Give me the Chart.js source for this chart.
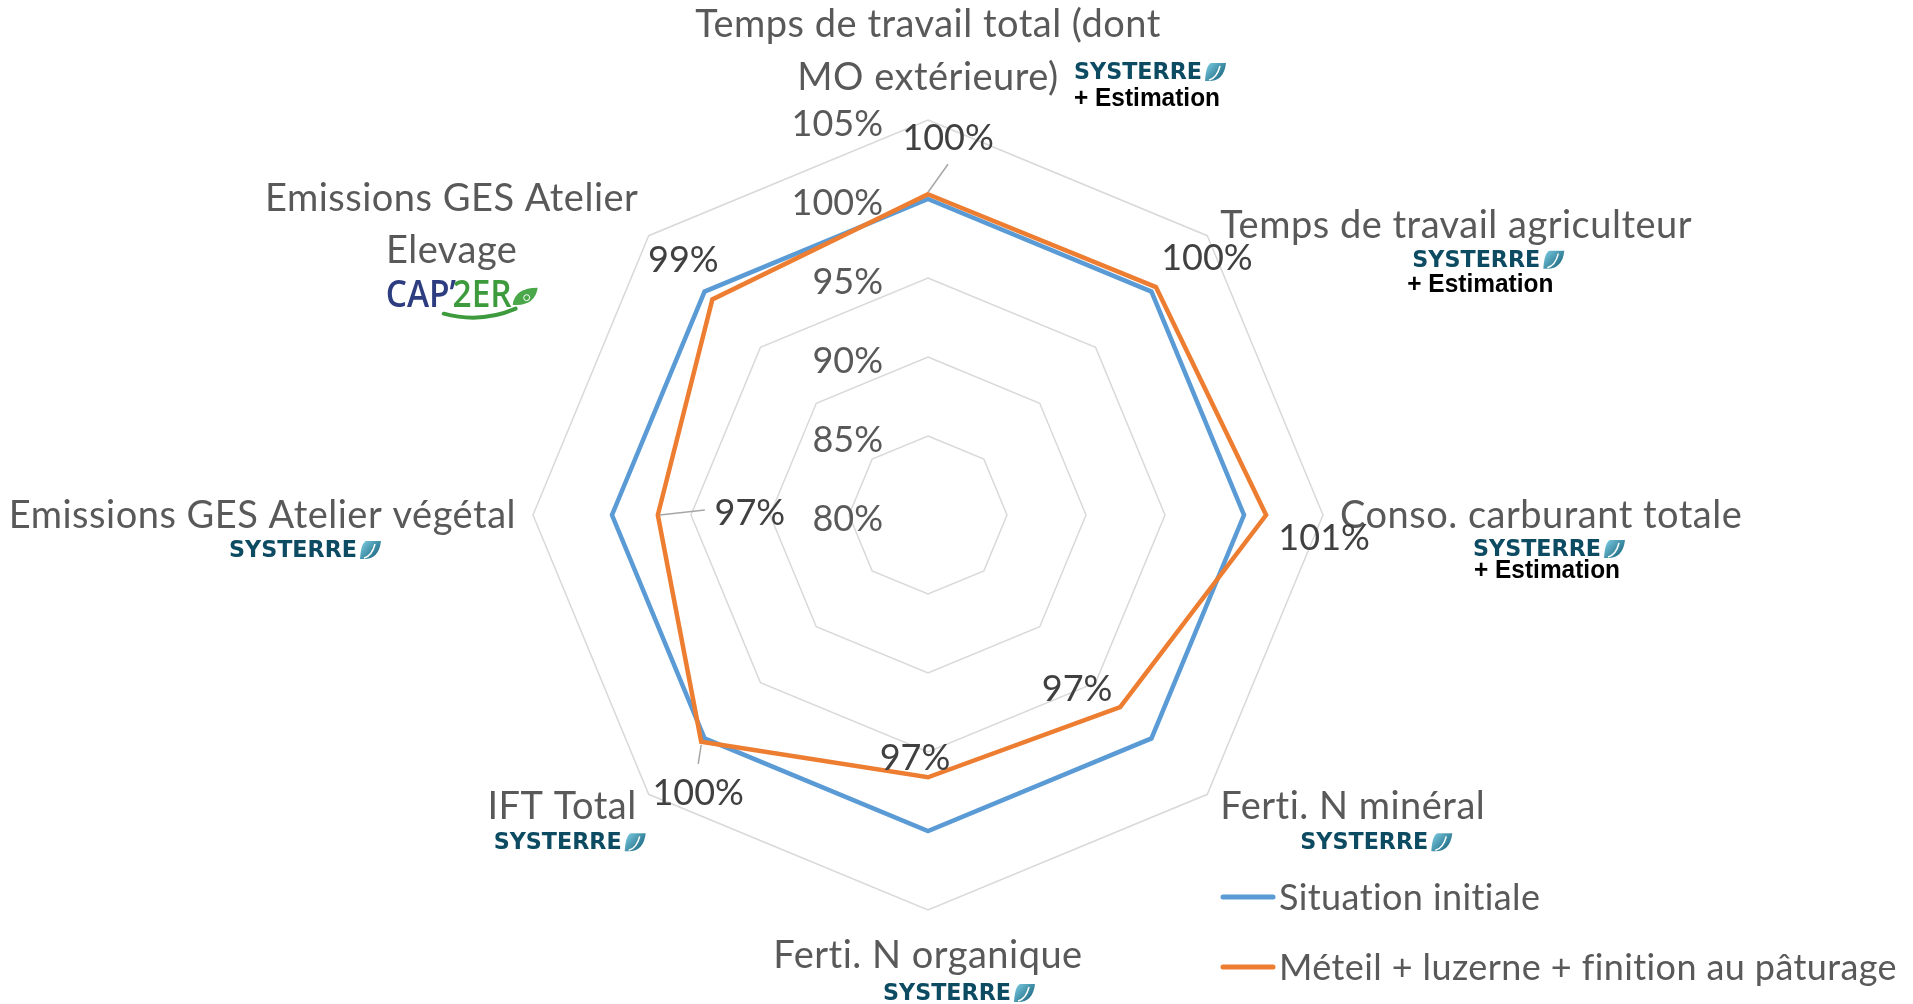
<!DOCTYPE html>
<html><head><meta charset="utf-8">
<script src="https://cdn.jsdelivr.net/npm/chart.js@4.4.0/dist/chart.umd.min.js"></script>
<style>html,body{margin:0;padding:0;background:#fff;overflow:hidden}#wrap{position:relative;width:1913px;height:1004px}</style>
</head><body><div id="wrap"><canvas id="c" width="1913" height="1004"></canvas></div>
<script>
// ---------- DATA ----------
const categories = [
  ['Temps de travail total (dont', 'MO extérieure)'],
  ['Temps de travail agriculteur'],
  ['Conso. carburant totale'],
  ['Ferti. N minéral'],
  ['Ferti. N organique'],
  ['IFT Total'],
  ['Emissions GES Atelier végétal'],
  ['Emissions GES Atelier', 'Elevage']
];
const sourceTool = ['SYSTERRE', 'SYSTERRE', 'SYSTERRE', 'SYSTERRE', 'SYSTERRE', 'SYSTERRE', 'SYSTERRE', 'CAP\u20192ER'];
const sourceNote = ['+ Estimation', '+ Estimation', '+ Estimation', '', '', '', '', ''];
const seriesNames = ['Situation initiale', 'Méteil + luzerne + finition au pâturage'];
const situationInitiale = [100, 100, 100, 100, 100, 100, 100, 100];
const meteilLuzerne = [100.3, 100.4, 101.4, 97.2, 96.6, 100.3, 97.1, 99.3];
const scaleMin = 80, scaleMax = 105, scaleStep = 5;

// ---------- STYLE ----------
const FONT = "Lato, 'Open Sans', 'DejaVu Sans', sans-serif";
const LABEL_SIZE = 38, LEGEND_SIZE = 36, NUM_SIZE = 36;
const TEXT_GREY = '#595959', NUM_GREY = '#404040';
const BLUE = '#5B9BD5', ORANGE = '#ED7D31';

// label placement relative to the outer (105%) vertex of each axis
const labelLayout = [
  {align: 'center', dx: 0, dy: [-97, -44], logo: [146, -48], note: [146, -21]},
  {align: 'left', dx: 13, dy: [-11], logo: [205, 24], note: [200, 49]},
  {align: 'left', dx: 17, dy: [-1], logo: [150, 34], note: [151, 56]},
  {align: 'left', dx: 13, dy: [11], logo: [93, 48]},
  {align: 'center', dx: 0, dy: [44], logo: [-45, 83]},
  {align: 'right', dx: -12, dy: [11], logo: [-155, 48]},
  {align: 'right', dx: -17, dy: [-1], logo: [-304, 35]},
  {align: 'center', dx: -197, dy: [-38, 14], logo: [-263, 60]}
];
// value label centre offsets relative to the orange point
const valueLabelOffset = [[20, -57], [51, -30], [58, 22], [-43, -19], [-13, -20], [-3, 50], [92, -3], [-29, -40]];
const leaderLines = {0: [[0, -2], [20, -30]], 5: [[0, 3], [-3, 22]], 6: [[2, 0], [47, -5]]};

function fitText(ctx, text, x, y, width, font, fill) {
  ctx.save();
  ctx.font = font;
  ctx.textAlign = 'left';
  ctx.textBaseline = 'middle';
  const w = ctx.measureText(text).width;
  ctx.translate(x, y);
  ctx.scale(width / w, 1);
  ctx.fillStyle = fill;
  ctx.fillText(text, 0, 0);
  ctx.restore();
}

function drawSysterre(ctx, text, x, yc) {
  const g = ctx.createLinearGradient(0, yc - 9, 0, yc + 9);
  g.addColorStop(0, '#0d4b63'); g.addColorStop(0.55, '#14607a'); g.addColorStop(1, '#1a86a8');
  fitText(ctx, text, x, yc + 1, 128, "bold 23px 'DejaVu Sans Condensed', 'DejaVu Sans', sans-serif", g);
  // leaf mark
  const lx = x + 131, top = yc - 9, bot = yc + 9;
  const lg = ctx.createLinearGradient(lx, top, lx + 20, bot);
  lg.addColorStop(0, '#7fd0e6'); lg.addColorStop(1, '#0f5a74');
  ctx.save();
  ctx.fillStyle = lg;
  ctx.beginPath();
  ctx.moveTo(lx + 6, top);
  ctx.lineTo(lx + 21, top);
  ctx.quadraticCurveTo(lx + 19, bot, lx + 4, bot);
  ctx.lineTo(lx, bot);
  ctx.quadraticCurveTo(lx + 1, top + 2, lx + 6, top);
  ctx.fill();
  ctx.strokeStyle = '#ffffff'; ctx.lineWidth = 1.5;
  ctx.beginPath(); ctx.moveTo(lx + 15, top + 3); ctx.quadraticCurveTo(lx + 12, bot - 3, lx + 4, bot - 1); ctx.stroke();
  ctx.restore();
}

function drawCap2er(ctx, text, x, yc) {
  ctx.save();
  ctx.font = "600 38px 'Open Sans', 'DejaVu Sans', sans-serif";
  ctx.textAlign = 'left';
  ctx.textBaseline = 'middle';
  const p1 = text.slice(0, 4), p2 = text.slice(4);
  const w1 = ctx.measureText(p1).width, w2 = ctx.measureText(p2).width;
  const sx = 126 / (w1 + w2 - 4);
  ctx.translate(x, yc);
  ctx.scale(sx, 1);
  ctx.fillStyle = '#2d3d80';
  ctx.fillText(p1, 0, 0);
  ctx.fillStyle = '#3d9b3d';
  ctx.fillText(p2, w1 - 4, 0);
  ctx.restore();
  // swoosh
  ctx.save();
  ctx.strokeStyle = '#3d9b3d'; ctx.lineWidth = 4; ctx.lineCap = 'round';
  ctx.beginPath(); ctx.moveTo(x + 58, yc + 18); ctx.quadraticCurveTo(x + 95, yc + 28, x + 130, yc + 13); ctx.stroke();
  // leaf
  ctx.fillStyle = '#4aa84a';
  ctx.beginPath();
  ctx.moveTo(x + 127, yc + 9);
  ctx.quadraticCurveTo(x + 129, yc - 8, x + 152, yc - 8);
  ctx.quadraticCurveTo(x + 149, yc + 11, x + 127, yc + 9);
  ctx.fill();
  ctx.strokeStyle = '#ffffff'; ctx.lineWidth = 1;
  ctx.beginPath(); ctx.arc(x + 141, yc + 2, 3, 0, Math.PI * 2); ctx.stroke();
  ctx.restore();
}

const decorPlugin = {
  id: 'decor',
  afterDatasetsDraw(chart) {
    const s = chart.scales.r, ctx = chart.ctx;
    ctx.save();
    // tick labels, left of the vertical axis
    ctx.font = NUM_SIZE + 'px ' + FONT;
    ctx.fillStyle = TEXT_GREY; ctx.textAlign = 'right'; ctx.textBaseline = 'alphabetic';
    const capH = NUM_SIZE * 0.717;
    s.ticks.forEach(t => {
      const y = s.yCenter - s.getDistanceFromCenterForValue(t.value);
      ctx.fillText(t.value + '%', s.xCenter - 45, y + 3 + capH / 2);
    });
    // category labels + source logos
    const lcap = LABEL_SIZE * 0.717;
    categories.forEach((lines, i) => {
      const v = s.getPointPosition(i, s.drawingArea);
      const L = labelLayout[i];
      ctx.save();
      ctx.font = LABEL_SIZE + 'px ' + FONT;
      ctx.letterSpacing = '0.5px';
      ctx.fillStyle = TEXT_GREY; ctx.textAlign = L.align; ctx.textBaseline = 'alphabetic';
      lines.forEach((ln, k) => ctx.fillText(ln, v.x + L.dx, v.y + L.dy[k] + lcap / 2));
      ctx.restore();
      if (sourceTool[i] === 'SYSTERRE') drawSysterre(ctx, sourceTool[i], v.x + L.logo[0], v.y + L.logo[1]);
      else drawCap2er(ctx, sourceTool[i], v.x + L.logo[0], v.y + L.logo[1]);
      if (sourceNote[i]) {
        fitText(ctx, sourceNote[i], v.x + L.note[0], v.y + L.note[1], 146, "bold 26px 'Liberation Sans', Arial, sans-serif", '#000000');
      }
    });
    // value labels for the scenario series
    ctx.font = NUM_SIZE + 'px ' + FONT;
    ctx.fillStyle = NUM_GREY; ctx.textAlign = 'center'; ctx.textBaseline = 'alphabetic';
    meteilLuzerne.forEach((val, i) => {
      const p = s.getPointPositionForValue(i, val);
      const o = valueLabelOffset[i];
      if (leaderLines[i]) {
        const ll = leaderLines[i];
        ctx.save(); ctx.strokeStyle = '#a6a6a6'; ctx.lineWidth = 1.5;
        ctx.beginPath(); ctx.moveTo(p.x + ll[0][0], p.y + ll[0][1]); ctx.lineTo(p.x + ll[1][0], p.y + ll[1][1]); ctx.stroke();
        ctx.restore();
      }
      ctx.fillText(Math.round(val) + '%', p.x + o[0], p.y + o[1] + capH / 2);
    });
    // legend
    const legendY = [897, 967];
    const gcap = LEGEND_SIZE * 0.717;
    chart.data.datasets.forEach((ds, k) => {
      ctx.strokeStyle = ds.borderColor; ctx.lineWidth = 5; ctx.lineCap = 'round';
      ctx.beginPath(); ctx.moveTo(1223, legendY[k]); ctx.lineTo(1273, legendY[k]); ctx.stroke();
      ctx.save();
      ctx.font = LEGEND_SIZE + 'px ' + FONT; ctx.letterSpacing = '0.4px';
      ctx.fillStyle = TEXT_GREY; ctx.textAlign = 'left';
      ctx.fillText(ds.label, 1279, legendY[k] + gcap / 2);
      ctx.restore();
    });
    ctx.restore();
  }
};

new Chart(document.getElementById('c'), {
  type: 'radar',
  data: {
    labels: categories.map(c => c.join(' ')),
    datasets: [
      {label: seriesNames[0], data: situationInitiale, borderColor: BLUE, backgroundColor: 'transparent', borderWidth: 4.5, pointRadius: 0, fill: false, borderJoinStyle: 'miter', order: 1},
      {label: seriesNames[1], data: meteilLuzerne, borderColor: ORANGE, backgroundColor: 'transparent', borderWidth: 4.5, pointRadius: 0, fill: false, borderJoinStyle: 'miter', order: 0}
    ]
  },
  options: {
    responsive: false,
    animation: false,
    devicePixelRatio: 1,
    layout: {padding: {left: 0, right: 57, top: 120, bottom: 94}},
    plugins: {legend: {display: false}, tooltip: {enabled: false}},
    scales: {
      r: {
        min: scaleMin, max: scaleMax,
        ticks: {stepSize: scaleStep, display: false},
        grid: {color: '#D9D9D9', lineWidth: 1.5, circular: false},
        angleLines: {display: false},
        pointLabels: {display: false}
      }
    }
  },
  plugins: [decorPlugin]
});
</script>
</body></html>
